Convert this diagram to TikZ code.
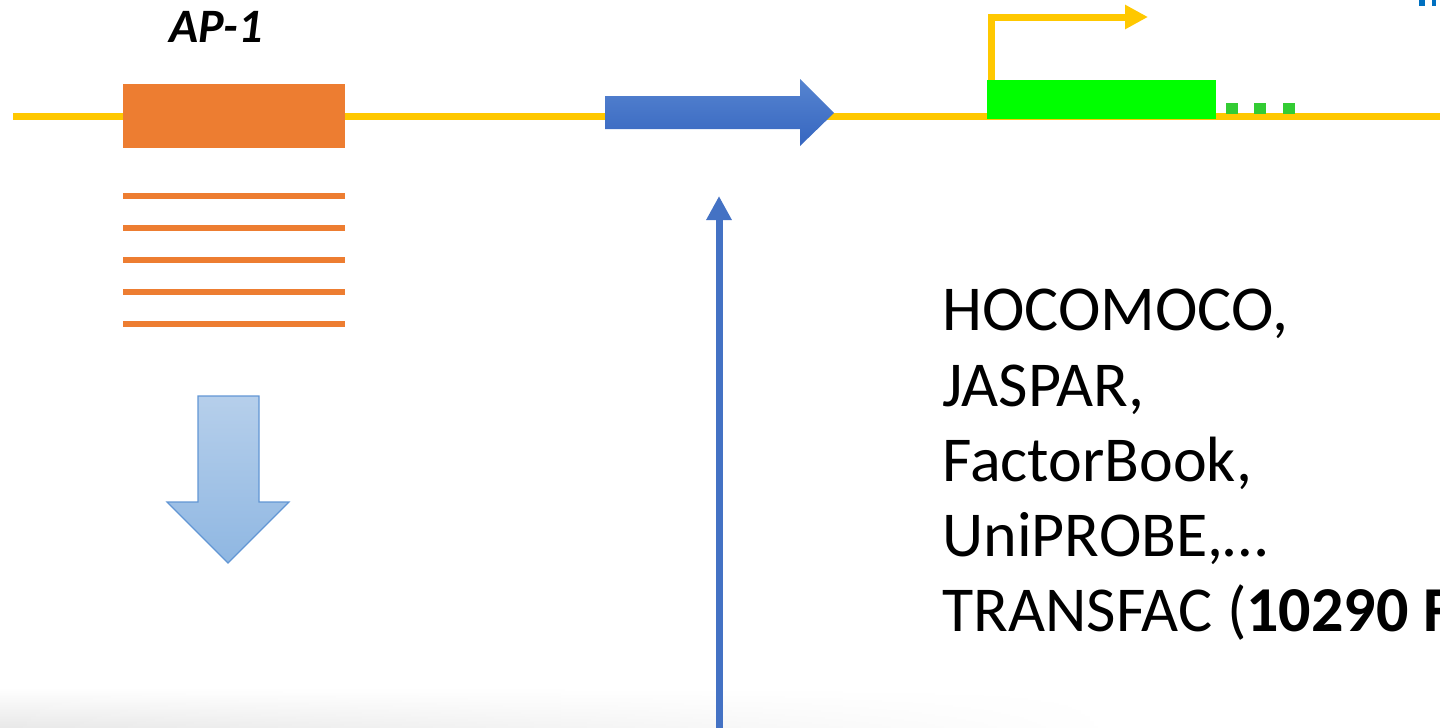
\documentclass[tikz,border=0pt]{standalone}
\usepackage{fontspec}
\setmainfont{Carlito}
\usetikzlibrary{arrows.meta, positioning, calc, fadings}

\definecolor{dnaYellow}{RGB}{255,200,0}
\definecolor{siteOrange}{RGB}{237,125,49}
\definecolor{geneGreen}{RGB}{0,255,0}
\definecolor{dotGreen}{RGB}{51,204,51}
\definecolor{motifBlueTop}{RGB}{86,132,208}
\definecolor{motifBlueBot}{RGB}{54,102,192}
\definecolor{pointerBlue}{RGB}{68,114,196}
\definecolor{downTop}{RGB}{182,207,235}
\definecolor{downBot}{RGB}{143,183,226}
\definecolor{downEdge}{RGB}{98,150,212}
\definecolor{cornerBlue}{RGB}{0,112,192}

\begin{document}
\begin{tikzpicture}[
    x=0.5pt, y=-0.5pt,
    dna/.style={line width=3.5pt, color=dnaYellow}, % Style for the DNA strand
    site line/.style={line width=3pt, color=siteOrange}, % Stacked binding sites
    gene box/.style={fill=geneGreen, draw=none},
    gene dot/.style={fill=dotGreen, draw=none},
    pointer arrow/.style={-{Triangle[length=12pt, width=12pt]}, line width=3.5pt, color=pointerBlue},
    tss arrow/.style={-{Triangle[length=11.5pt, width=11.5pt]}, line width=3.5pt, color=dnaYellow},
    db text/.style={font=\fontsize{32pt}{37.6pt}\selectfont, align=left, inner sep=0pt, anchor=north west}
]

    % === Canvas ===
    \useasboundingbox (0,0) rectangle (1440,728);

    % faint shadow along the bottom edge
    \shade[top color=white, bottom color=black!9, path fading=east]
        (0,688) rectangle (1120,728);

    % === DNA strand ===
    \coordinate (dna_start) at (13,116);
    \coordinate (dna_end) at (1440,116);
    \draw[dna] (dna_start) -- (dna_end);

    % ====== AP-1 SITE ======
    \fill[siteOrange] (123,84) rectangle (345,148);
    \node[font=\fontsize{24pt}{28pt}\selectfont\bfseries\itshape, anchor=base] (ap1_label) at (216,42) {AP-1};

    % Stacked sites below the box
    \foreach \y in {196,228,260,292,324}
        \draw[site line] (123,\y) -- (345,\y);

    % Light blue down arrow
    \shade[top color=downTop, bottom color=downBot, draw=downEdge, line width=0.6pt]
        (198,396) -- (259,396) -- (259,502) -- (289,502) -- (228,563)
        -- (167,502) -- (198,502) -- cycle;

    % ====== MOTIF ARROW ======
    \shade[top color=motifBlueTop, bottom color=motifBlueBot]
        (605,96) -- (800,96) -- (800,79) -- (834,113) -- (800,146)
        -- (800,129) -- (605,129) -- cycle;
    \coordinate (motif_below) at (719,196);
    \coordinate (pointer_foot) at (719,730);
    \draw[pointer arrow] (pointer_foot) -- (motif_below);

    % ====== GENE ======
    \fill[gene box] (987,80) rectangle (1216,119);
    \foreach \x in {1226,1254,1283}
        \fill[gene dot] (\x,103) rectangle ++(12,11);

    % Transcription start
    \coordinate (tss_base) at (991,80);
    \coordinate (tss_corner) at (991,17);
    \coordinate (tss_tip) at (1148,17);
    \draw[tss arrow] (tss_base) -- (tss_corner) -- (tss_tip);

    % Cut-off mark in the corner
    \fill[cornerBlue] (1419,0) rectangle (1425,6);
    \fill[cornerBlue] (1432,0) rectangle (1436,6);

    % ====== DATABASES ======
    \begin{scope}
        \clip (0,0) rectangle (1440,728);
        \node[db text] (db_list) at (942,289)
            {HOCOMOCO,\\JASPAR,\\FactorBook,\\UniPROBE,\ldots\\TRANSFAC (\textbf{10290 F}};
    \end{scope}

\end{tikzpicture}
\end{document}
